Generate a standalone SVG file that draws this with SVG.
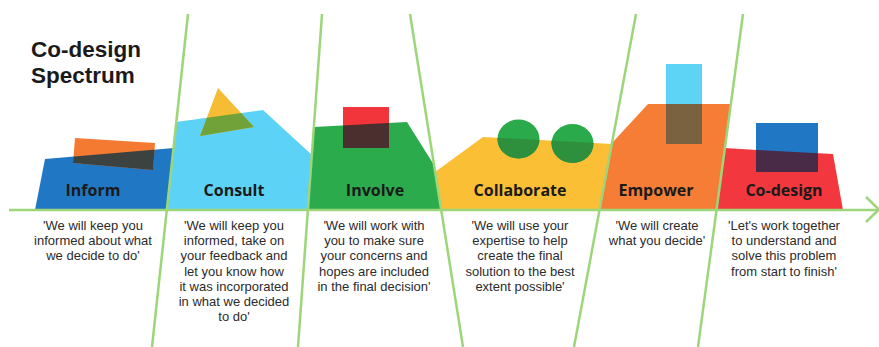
<svg xmlns="http://www.w3.org/2000/svg" width="879" height="347" viewBox="0 0 879 347">
<style>
.title{font-family:"Liberation Sans","Open Sans",sans-serif;font-weight:bold;font-size:22.5px;fill:#1a1a1a}
.lbl{font-family:"Open Sans","Liberation Sans",sans-serif;font-weight:bold;font-size:16px;fill:#1a1a1a;text-anchor:middle}
.q{font-family:"Liberation Sans","Open Sans",sans-serif;font-size:13px;fill:#2b2b2b;text-anchor:middle}
.ln{stroke:#9dd67a;stroke-width:2.5;fill:none}
</style>
<defs>
<clipPath id="cInform"><polygon points="35,210 45,159 174,148 167,210"/></clipPath>
<clipPath id="cConsult"><polygon points="167,210 176,122 263,110 312,155 308,210"/></clipPath>
<clipPath id="cInvolve"><polygon points="308,210 314,127 407,122 434,165 441,210"/></clipPath>
<clipPath id="cCollab"><polygon points="441,210 435,172 483,137 612,144 599.5,210"/></clipPath>
<clipPath id="cEmpower"><polygon points="599.5,210 612,143 648,104 731,104 716.5,210"/></clipPath>
<clipPath id="cCodesign"><polygon points="716.5,210 725,148 757,150 833,154 843,210"/></clipPath>
</defs>
<rect width="879" height="347" fill="#ffffff"/>
<g id="title">
<text class="title" x="31" y="57">Co-design<tspan x="31" dy="26">Spectrum</tspan></text>
</g>
<g id="inform">
<polygon points="35,210 45,159 174,148 167,210" fill="#2077c3"/>
<polygon points="75,138 155,143 153,170 73,163" fill="#f47a32"/>
<polygon points="75,138 155,143 153,170 73,163" fill="#3c4240" clip-path="url(#cInform)"/>
<text class="lbl" x="93" y="196">Inform</text>
<text class="q" x="93" y="230">'We will keep you<tspan x="93" dy="15.2">informed about what</tspan><tspan x="93" dy="15.2">we decide to do'</tspan></text>
</g>
<g id="consult">
<polygon points="167,210 176,122 263,110 312,155 308,210" fill="#5cd3f6"/>
<polygon points="218,88 254,127 200,136" fill="#f6bc33"/>
<polygon points="218,88 254,127 200,136" fill="#71a23a" clip-path="url(#cConsult)"/>
<text class="lbl" x="234" y="196">Consult</text>
<text class="q" x="234" y="230">'We will keep you<tspan x="234" dy="15.2">informed, take on</tspan><tspan x="234" dy="15.2">your feedback and</tspan><tspan x="234" dy="15.2">let you know how</tspan><tspan x="234" dy="15.2">it was incorporated</tspan><tspan x="234" dy="15.2">in what we decided</tspan><tspan x="234" dy="15.2">to do'</tspan></text>
</g>
<g id="involve">
<polygon points="308,210 314,127 407,122 434,165 441,210" fill="#2bab4b"/>
<rect x="343" y="107" width="46" height="41" fill="#f2353b"/>
<rect x="343" y="107" width="46" height="41" fill="#4b2e2e" clip-path="url(#cInvolve)"/>
<text class="lbl" x="375" y="196">Involve</text>
<text class="q" x="374" y="230">'We will work with<tspan x="374" dy="15.2">you to make sure</tspan><tspan x="374" dy="15.2">your concerns and</tspan><tspan x="374" dy="15.2">hopes are included</tspan><tspan x="374" dy="15.2">in the final decision'</tspan></text>
</g>
<g id="collaborate">
<polygon points="441,210 435,172 483,137 612,144 599.5,210" fill="#fbbf35"/>
<ellipse cx="518.5" cy="139" rx="21" ry="19.5" fill="#2aaa4a"/>
<ellipse cx="572.5" cy="143.5" rx="21" ry="19.5" fill="#2aaa4a"/>
<g clip-path="url(#cCollab)">
<ellipse cx="518.5" cy="139" rx="21" ry="19.5" fill="#2e8f3c"/>
<ellipse cx="572.5" cy="143.5" rx="21" ry="19.5" fill="#2e8f3c"/>
</g>
<text class="lbl" x="520" y="196">Collaborate</text>
<text class="q" x="520" y="230">'We will use your<tspan x="520" dy="15.2">expertise to help</tspan><tspan x="520" dy="15.2">create the final</tspan><tspan x="520" dy="15.2">solution to the best</tspan><tspan x="520" dy="15.2">extent possible'</tspan></text>
</g>
<g id="empower">
<polygon points="599.5,210 612,143 648,104 731,104 716.5,210" fill="#f57d35"/>
<rect x="666" y="64" width="36" height="80" fill="#5dd3f5"/>
<rect x="666" y="64" width="36" height="80" fill="#7a6240" clip-path="url(#cEmpower)"/>
<text class="lbl" x="656" y="196">Empower</text>
<text class="q" x="657" y="230">'We will create<tspan x="657" dy="15.2">what you decide'</tspan></text>
</g>
<g id="codesign">
<polygon points="716.5,210 725,148 757,150 833,154 843,210" fill="#f3373e"/>
<rect x="756" y="123" width="62" height="49" fill="#2077c3"/>
<rect x="756" y="123" width="62" height="49" fill="#4a2b47" clip-path="url(#cCodesign)"/>
<text class="lbl" x="784" y="196">Co-design</text>
<text class="q" x="784" y="230">'Let's work together<tspan x="784" dy="15.2">to understand and</tspan><tspan x="784" dy="15.2">solve this problem</tspan><tspan x="784" dy="15.2">from start to finish'</tspan></text>
</g>
<g id="connectors">
<line class="ln" x1="9" y1="210" x2="878" y2="210" stroke-width="3"/>
<polyline class="ln" points="866,197 879,209.5 866,222"/>
<line class="ln" x1="188" y1="14" x2="152" y2="347"/>
<line class="ln" x1="322" y1="14" x2="298" y2="347"/>
<line class="ln" x1="410" y1="14" x2="463" y2="347"/>
<line class="ln" x1="636" y1="14" x2="574" y2="347"/>
<line class="ln" x1="743" y1="14" x2="698" y2="347"/>
</g>
</svg>
